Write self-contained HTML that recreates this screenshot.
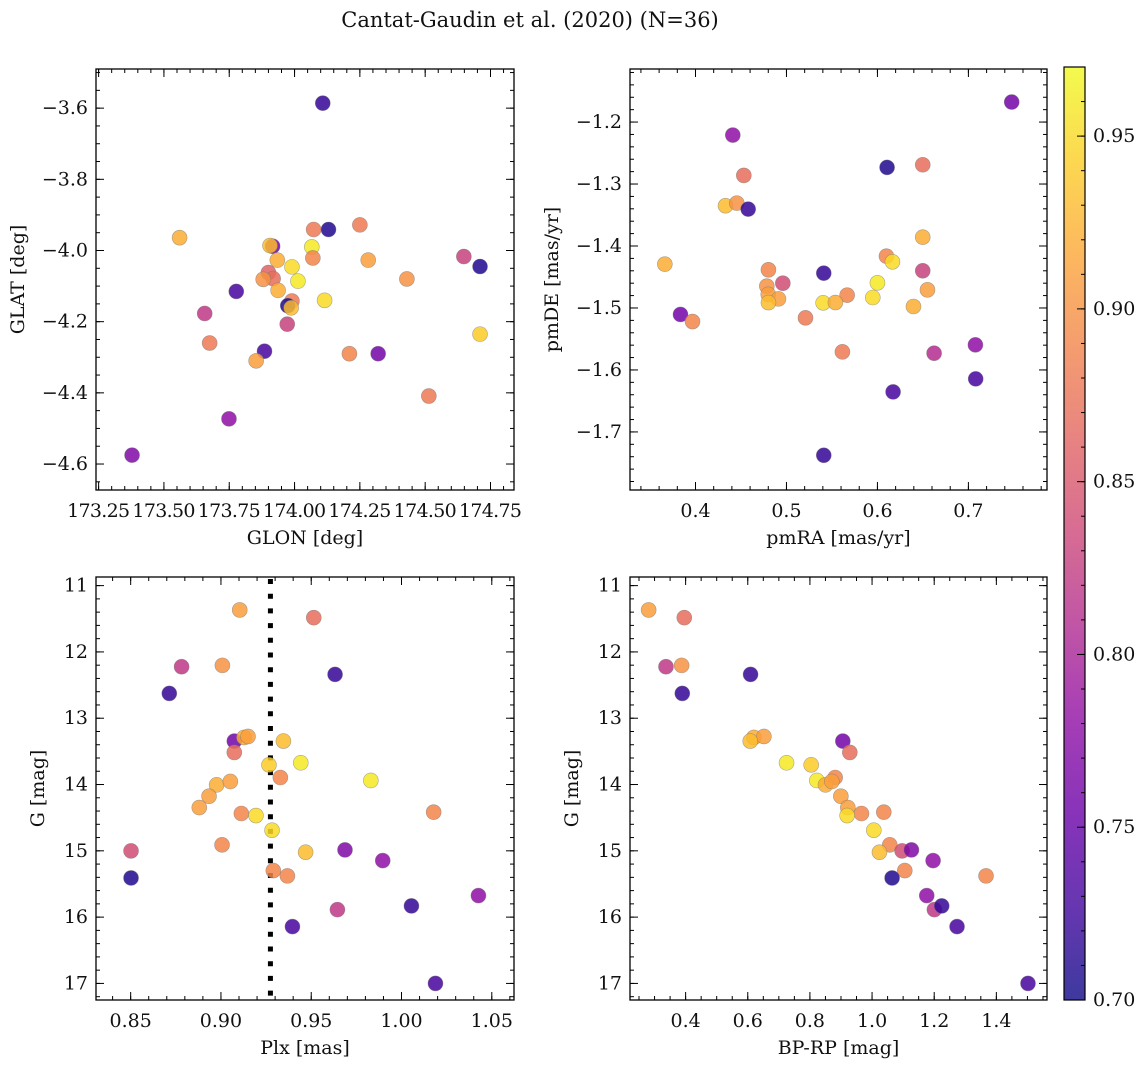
<!DOCTYPE html>
<html><head><meta charset="utf-8"><style>
body{margin:0;background:#fff;}
svg text{font-family:"DejaVu Serif","Liberation Serif",serif;fill:#111;}
</style></head><body>
<svg id="fig" width="1148" height="1067" viewBox="0 0 1148 1067" xmlns="http://www.w3.org/2000/svg">
<defs><linearGradient id="cbgrad" x1="0" y1="1" x2="0" y2="0"></linearGradient></defs>
<text x="530" y="27" font-size="21" text-anchor="middle">Cantat-Gaudin et al. (2020) (N=36)</text>
</svg>
<script>
// Panel 1: GLON/GLAT
const p1Glon=[174.108,173.56,174.073,174.13,174.25,173.916,173.906,174.066,173.934,174.07,174.282,173.99,173.90,173.918,173.88,174.013,174.43,174.648,174.71,173.777,173.937,173.99,173.974,173.987,174.115,173.656,173.972,173.675,173.885,173.853,174.21,174.32,174.71,174.514,173.749,173.378];
const p1Glat=[-3.586,-3.964,-3.941,-3.941,-3.928,-3.988,-3.986,-3.99,-4.027,-4.021,-4.027,-4.046,-4.062,-4.079,-4.081,-4.086,-4.08,-4.017,-4.045,-4.115,-4.112,-4.142,-4.155,-4.161,-4.14,-4.177,-4.207,-4.26,-4.283,-4.31,-4.29,-4.29,-4.235,-4.409,-4.473,-4.575];
const p1Prob=[0.72,0.92,0.88,0.71,0.88,0.76,0.93,0.96,0.92,0.89,0.91,0.95,0.86,0.87,0.90,0.96,0.90,0.83,0.71,0.73,0.92,0.88,0.71,0.93,0.95,0.82,0.83,0.88,0.73,0.91,0.89,0.76,0.94,0.88,0.78,0.77];
// Panel 2: pmRA/pmDE
const p2PmRA=[0.7476,0.441,0.6106,0.6498,0.4531,0.433,0.4454,0.4579,0.6498,0.3663,0.6099,0.6165,0.4802,0.541,0.6498,0.496,0.600,0.4784,0.655,0.480,0.4912,0.5667,0.4802,0.5403,0.5538,0.5949,0.6396,0.3835,0.3967,0.5209,0.5615,0.6623,0.7077,0.708,0.6172,0.541];
const p2PmDE=[-1.1677,-1.221,-1.2732,-1.2689,-1.2861,-1.335,-1.3308,-1.3405,-1.3857,-1.4293,-1.4164,-1.4255,-1.4384,-1.4438,-1.44,-1.46,-1.4594,-1.4648,-1.4707,-1.478,-1.4853,-1.4793,-1.4913,-1.4917,-1.4912,-1.4831,-1.4976,-1.5105,-1.5219,-1.5159,-1.5708,-1.573,-1.5595,-1.6144,-1.6354,-1.7377];
const p2Prob=[0.76,0.78,0.71,0.87,0.87,0.93,0.90,0.72,0.92,0.92,0.89,0.95,0.89,0.72,0.83,0.84,0.96,0.90,0.91,0.91,0.91,0.89,0.93,0.95,0.92,0.95,0.92,0.76,0.89,0.88,0.88,0.81,0.78,0.73,0.73,0.72];
// Panels 3 & 4: Plx, BP-RP vs G
const gMag=[11.367,11.483,12.223,12.203,12.339,12.626,13.345,13.29,13.275,13.345,13.516,13.703,13.672,13.894,13.939,14.005,13.954,14.176,14.347,14.437,14.468,14.417,14.689,14.91,15.001,15.021,14.986,15.147,15.298,15.378,15.409,15.675,15.887,15.831,16.143,17.0];
const plx=[0.9104,0.9514,0.8782,0.9008,0.9632,0.8714,0.9074,0.9128,0.915,0.9346,0.9074,0.9266,0.9442,0.9329,0.983,0.8976,0.9052,0.8934,0.888,0.9113,0.9194,1.0178,0.9283,0.9006,0.8502,0.9469,0.9687,0.9896,0.929,0.9368,0.8502,1.0426,0.9645,1.0055,0.9396,1.0188];
const bprp=[0.281,0.3957,0.3368,0.3871,0.609,0.3893,0.9059,0.6197,0.6519,0.6079,0.9284,0.8041,0.7248,0.8812,0.8223,0.8502,0.8705,0.8995,0.922,0.9659,0.9198,1.0377,1.0056,1.057,1.0967,1.0238,1.1267,1.1964,1.1053,1.3668,1.0645,1.176,1.2006,1.2242,1.2735,1.5018];
const cmdProb=[0.91,0.87,0.82,0.90,0.72,0.72,0.76,0.92,0.91,0.93,0.87,0.94,0.96,0.89,0.96,0.92,0.91,0.91,0.91,0.89,0.95,0.89,0.95,0.89,0.84,0.93,0.77,0.78,0.89,0.89,0.71,0.78,0.82,0.72,0.73,0.73];
const plxMean=0.9274;
const cbTicks=[0.70,0.75,0.80,0.85,0.90,0.95];
const cMin=0.70,cMax=0.97;

const FS=19;
const NS="http://www.w3.org/2000/svg";
const svg=document.getElementById('fig');
function mk(tag,attrs,parent){const e=document.createElementNS(NS,tag);for(const k in attrs)e.setAttribute(k,attrs[k]);(parent||svg).appendChild(e);return e;}
const plasma=[[13,8,135],[65,4,157],[106,0,168],[143,13,164],[177,42,144],[204,71,120],[225,100,98],[242,132,75],[252,166,54],[252,206,37],[240,249,33]];
function cmap(v){let t=(v-cMin)/(cMax-cMin);t=Math.max(0,Math.min(1,t));const f=t*10,i=Math.min(9,Math.floor(f)),r=f-i;const a=plasma[i],b=plasma[i+1];return 'rgb('+a.map((x,k)=>Math.round(x+(b[k]-x)*r)).join(',')+')';}

function makeAxes(o){
  const g=mk('g',{});
  
  
  o.sx=v=>o.x0+(v-o.xmin)/(o.xmax-o.xmin)*(o.x1-o.x0);
  o.sy=v=>o.inv? o.y0+(v-o.ymin)/(o.ymax-o.ymin)*(o.y1-o.y0) : o.y1-(v-o.ymin)/(o.ymax-o.ymin)*(o.y1-o.y0);
  o.g=g;return o;
}
function drawFrame(o){
  const g=o.g;
  const tg=mk('g',{stroke:'#000','stroke-width':1},g);
  
  
  const xm=o.xt, ym=o.yt;
  const xs=xm[1]-xm[0], ys=ym[1]-ym[0];
  for(let v=xm[0]-xs;v<=xm[xm.length-1]+xs+1e-9;v+=xs/o.xn){const p=o.sx(v);if(p<o.x0-0.1||p>o.x1+0.1)continue;
    mk('line',{x1:p,x2:p,y1:o.y1,y2:o.y1-4},tg);mk('line',{x1:p,x2:p,y1:o.y0,y2:o.y0+4},tg);}
  for(let v=ym[0]-ys;v<=ym[ym.length-1]+ys+1e-9;v+=ys/o.yn){const p=o.sy(v);if(p<o.y0-0.1||p>o.y1+0.1)continue;
    mk('line',{y1:p,y2:p,x1:o.x0,x2:o.x0+4},tg);mk('line',{y1:p,y2:p,x1:o.x1,x2:o.x1-4},tg);}
  xm.forEach(v=>{const p=o.sx(v);mk('line',{x1:p,x2:p,y1:o.y1,y2:o.y1-8},tg);mk('line',{x1:p,x2:p,y1:o.y0,y2:o.y0+8},tg);
    const t=mk('text',{x:p,y:o.y1+27,'font-size':FS,'text-anchor':'middle'},g);t.textContent=v.toFixed(o.xd);
    if(o.xw) t.setAttribute('textLength',o.xw);
    });
  ym.forEach(v=>{const p=o.sy(v);mk('line',{y1:p,y2:p,x1:o.x0,x2:o.x0+8},tg);mk('line',{y1:p,y2:p,x1:o.x1,x2:o.x1-8},tg);
    const t=mk('text',{x:o.x0-8,y:p+6,'font-size':FS,'text-anchor':'end'},g);t.textContent=(v<0?'\u2212':'')+Math.abs(v).toFixed(o.yd);
    });
  const fr=mk('rect',{x:o.x0,y:o.y0,width:o.x1-o.x0,height:o.y1-o.y0,fill:'none',stroke:'#000','stroke-width':1.3},g);
  
  const xl=mk('text',{x:(o.x0+o.x1)/2,y:o.y1+54,'font-size':FS,'text-anchor':'middle'},g);xl.textContent=o.xlab;
  
  const yl=mk('text',{x:0,y:0,'font-size':FS,'text-anchor':'middle',transform:'translate('+o.ylx+','+(o.y0+o.y1)/2+') rotate(-90)'},g);yl.textContent=o.ylab;
  
}
function scatter(o,xs,ys,cs){
  const g=mk('g',{},o.g);
  
  xs.forEach((x,i)=>{const c=mk('circle',{cx:o.sx(x),cy:o.sy(ys[i]),r:7.5,fill:cmap(cs[i]),'fill-opacity':0.85,stroke:'#777','stroke-opacity':0.6,'stroke-width':0.6},g);
    });
}
function rng(a,b,s){const r=[];for(let v=a;v<=b+s*1e-6;v+=s)r.push(Math.round(v*1e6)/1e6);return r;}

const a1=makeAxes({name:'glon-glat-panel',x0:96,x1:514,y0:69,y1:490,xmin:173.24,xmax:174.84,ymin:-4.673,ymax:-3.49,xt:rng(173.25,174.75,0.25),yt:rng(-4.6,-3.6,0.2),xn:5,yn:4,xd:2,yd:1,xw:63,xlab:'GLON [deg]',ylab:'GLAT [deg]',ylx:24});
scatter(a1,p1Glon,p1Glat,p1Prob);drawFrame(a1);
const a2=makeAxes({name:'pm-panel',x0:630,x1:1047,y0:69,y1:490,xmin:0.328,xmax:0.7864,ymin:-1.7937,ymax:-1.1144,xt:rng(0.4,0.7,0.1),yt:rng(-1.7,-1.2,0.1),xn:5,yn:5,xd:1,yd:1,xlab:'pmRA [mas/yr]',ylab:'pmDE [mas/yr]',ylx:558});
scatter(a2,p2PmRA,p2PmDE,p2Prob);drawFrame(a2);
const a3=makeAxes({name:'plx-g-panel',x0:96,x1:514,y0:577,y1:1000,xmin:0.8308,xmax:1.0623,ymin:10.87,ymax:17.25,inv:true,xt:rng(0.85,1.05,0.05),yt:rng(11,17,1),xn:5,yn:5,xd:2,yd:0,xlab:'Plx [mas]',ylab:'G [mag]',ylx:44});
const dl=mk('line',{x1:a3.sx(plxMean),x2:a3.sx(plxMean),y1:579,y2:1000,stroke:'#000','stroke-width':5,'stroke-dasharray':'5 9.7'},a3.g);

scatter(a3,plx,gMag,cmdProb);drawFrame(a3);
const a4=makeAxes({name:'cmd-panel',x0:630,x1:1047,y0:577,y1:1000,xmin:0.221,xmax:1.563,ymin:10.87,ymax:17.25,inv:true,xt:rng(0.4,1.4,0.2),yt:rng(11,17,1),xn:4,yn:5,xd:1,yd:0,xlab:'BP-RP [mag]',ylab:'G [mag]',ylx:578});
scatter(a4,bprp,gMag,cmdProb);drawFrame(a4);

// colorbar
const grad=document.getElementById('cbgrad');
for(let i=0;i<=10;i++){mk('stop',{offset:(i/10),'stop-color':'rgb('+plasma[i].join(',')+')'},grad);}
const cb=mk('g',{});
const cy0=67,cy1=1000,cx0=1064,cx1=1085;
const cs=v=>cy1-(v-cMin)/(cMax-cMin)*(cy1-cy0);
mk('rect',{x:cx0,y:cy0,width:cx1-cx0,height:cy1-cy0,fill:'url(#cbgrad)','fill-opacity':0.8},cb);
mk('rect',{x:cx0,y:cy0,width:cx1-cx0,height:cy1-cy0,fill:'none',stroke:'#000','stroke-width':1.2},cb);
for(let v=cMin;v<=cMax+1e-9;v+=0.01){const p=cs(v);mk('line',{x1:cx1,x2:cx1-4,y1:p,y2:p,stroke:'#000'},cb);}
cbTicks.forEach(v=>{const p=cs(v);mk('line',{x1:cx1,x2:cx1-8,y1:p,y2:p,stroke:'#000'},cb);
  const t=mk('text',{x:cx1+8,y:p+6,'font-size':FS},cb);t.textContent=v.toFixed(2);
  });
</script>
</body></html>
